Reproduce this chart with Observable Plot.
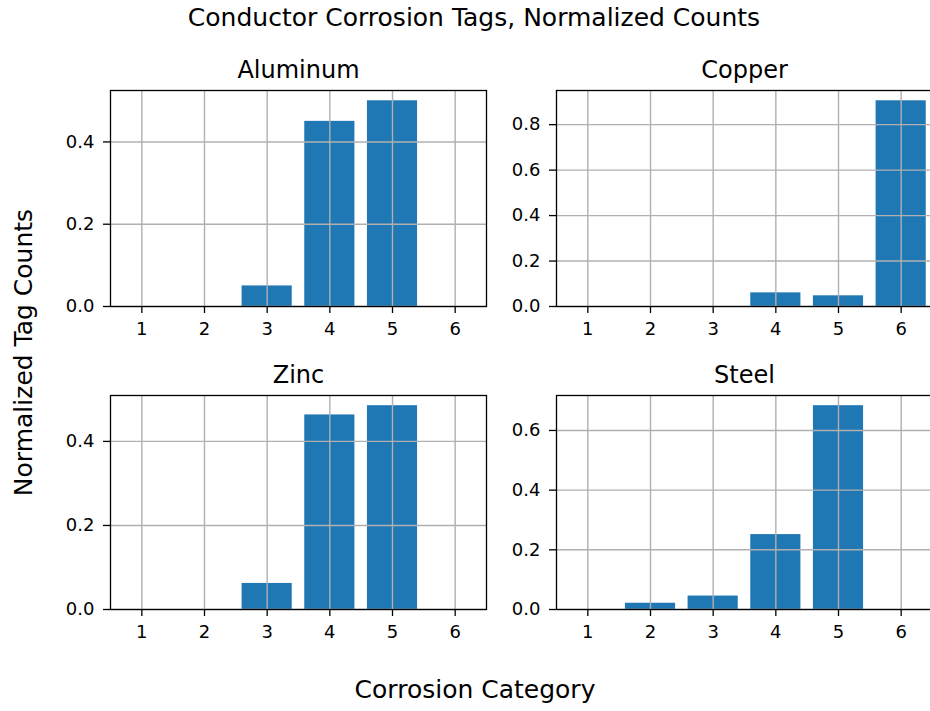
<!DOCTYPE html>
<html>
<head>
<meta charset="utf-8">
<script src="https://cdn.jsdelivr.net/npm/d3@7"></script>
<script src="https://cdn.jsdelivr.net/npm/@observablehq/plot@0.6"></script>
<style>
  html, body { margin: 0; padding: 0; background: #fff; }
  #fig { position: relative; width: 930px; height: 711px; overflow: hidden; background: #fff;
         font-family: "DejaVu Sans", sans-serif; color: #000; }
  .lbl { position: absolute; font-size: 25px; line-height: 25px; white-space: nowrap; text-align: center; }
  .panel { position: absolute; }
</style>
</head>
<body>
<div id="fig">
  <div class="lbl" style="left:174px; top:5px; width:600px;">Conductor Corrosion Tags, Normalized Counts</div>
  <div class="lbl" style="left:275px; top:677px; width:400px;">Corrosion Category</div>
  <div class="lbl" style="left:-177px; top:340px; width:400px; transform: rotate(-90deg); transform-origin: 200px 12.5px;">Normalized Tag Counts</div>
</div>
<script>
// Corrosion categories on the x axis
const categories = [1, 2, 3, 4, 5, 6];

// Normalized tag counts per conductor material
const aluminum = [0, 0, 0.05, 0.45, 0.50, 0];
const copper   = [0, 0, 0, 0.06, 0.047, 0.905];
const zinc     = [0, 0, 0.062, 0.463, 0.485, 0];
const steel    = [0, 0.021, 0.045, 0.251, 0.683, 0];

// y tick values for each panel
const aluminumTicks = [0, 0.2, 0.4];
const copperTicks   = [0, 0.2, 0.4, 0.6, 0.8];
const zincTicks     = [0, 0.2, 0.4];
const steelTicks    = [0, 0.2, 0.4, 0.6];

const panels = [
  {name: "Aluminum", values: aluminum, ticks: aluminumTicks, left: 110, top: 90,  h: 216},
  {name: "Copper",   values: copper,   ticks: copperTicks,   left: 556, top: 90,  h: 216},
  {name: "Zinc",     values: zinc,     ticks: zincTicks,     left: 110, top: 395, h: 214},
  {name: "Steel",    values: steel,    ticks: steelTicks,    left: 556, top: 395, h: 214}
];

const frameW = 376;
const ml = 70, mr = 6, mt = 45, mb = 40;
const fig = document.getElementById("fig");

for (const p of panels) {
  const data = categories.map((c, i) => ({cat: c, value: p.values[i]}));
  const ymax = d3.max(p.values) * 1.05;
  const chart = Plot.plot({
    width: ml + frameW + mr,
    height: mt + p.h + mb,
    marginLeft: ml, marginRight: mr, marginTop: mt, marginBottom: mb,
    style: {background: "transparent", fontFamily: "DejaVu Sans, sans-serif", fontSize: "18px", color: "#000", overflow: "visible"},
    x: {domain: [0.5, 6.5], label: null},
    y: {domain: [0, ymax], label: null},
    marks: [
      Plot.rectY(data, {x1: d => d.cat - 0.4, x2: d => d.cat + 0.4, y1: 0, y2: "value", fill: "#1f77b4"}),
      Plot.gridX(categories, {stroke: "#b0b0b0", strokeOpacity: 1, strokeWidth: 1.4}),
      Plot.gridY(p.ticks, {stroke: "#b0b0b0", strokeOpacity: 1, strokeWidth: 1.4}),
      Plot.frame({stroke: "#000", strokeWidth: 1.3}),
      Plot.axisX(categories, {tickSize: 7, tickPadding: 9, strokeWidth: 1.3, tickFormat: d => String(d), label: null, fontSize: 18}),
      Plot.axisY(p.ticks, {tickSize: 7, tickPadding: 9, strokeWidth: 1.3, tickFormat: d3.format(".1f"), label: null, fontSize: 18}),
      Plot.text([p.name], {frameAnchor: "top", lineAnchor: "bottom", dy: -13, fontSize: 24, fill: "#000"})
    ]
  });
  chart.classList.add("panel");
  chart.style.left = (p.left - ml) + "px";
  chart.style.top = (p.top - mt) + "px";
  fig.appendChild(chart);
}
</script>
</body>
</html>
